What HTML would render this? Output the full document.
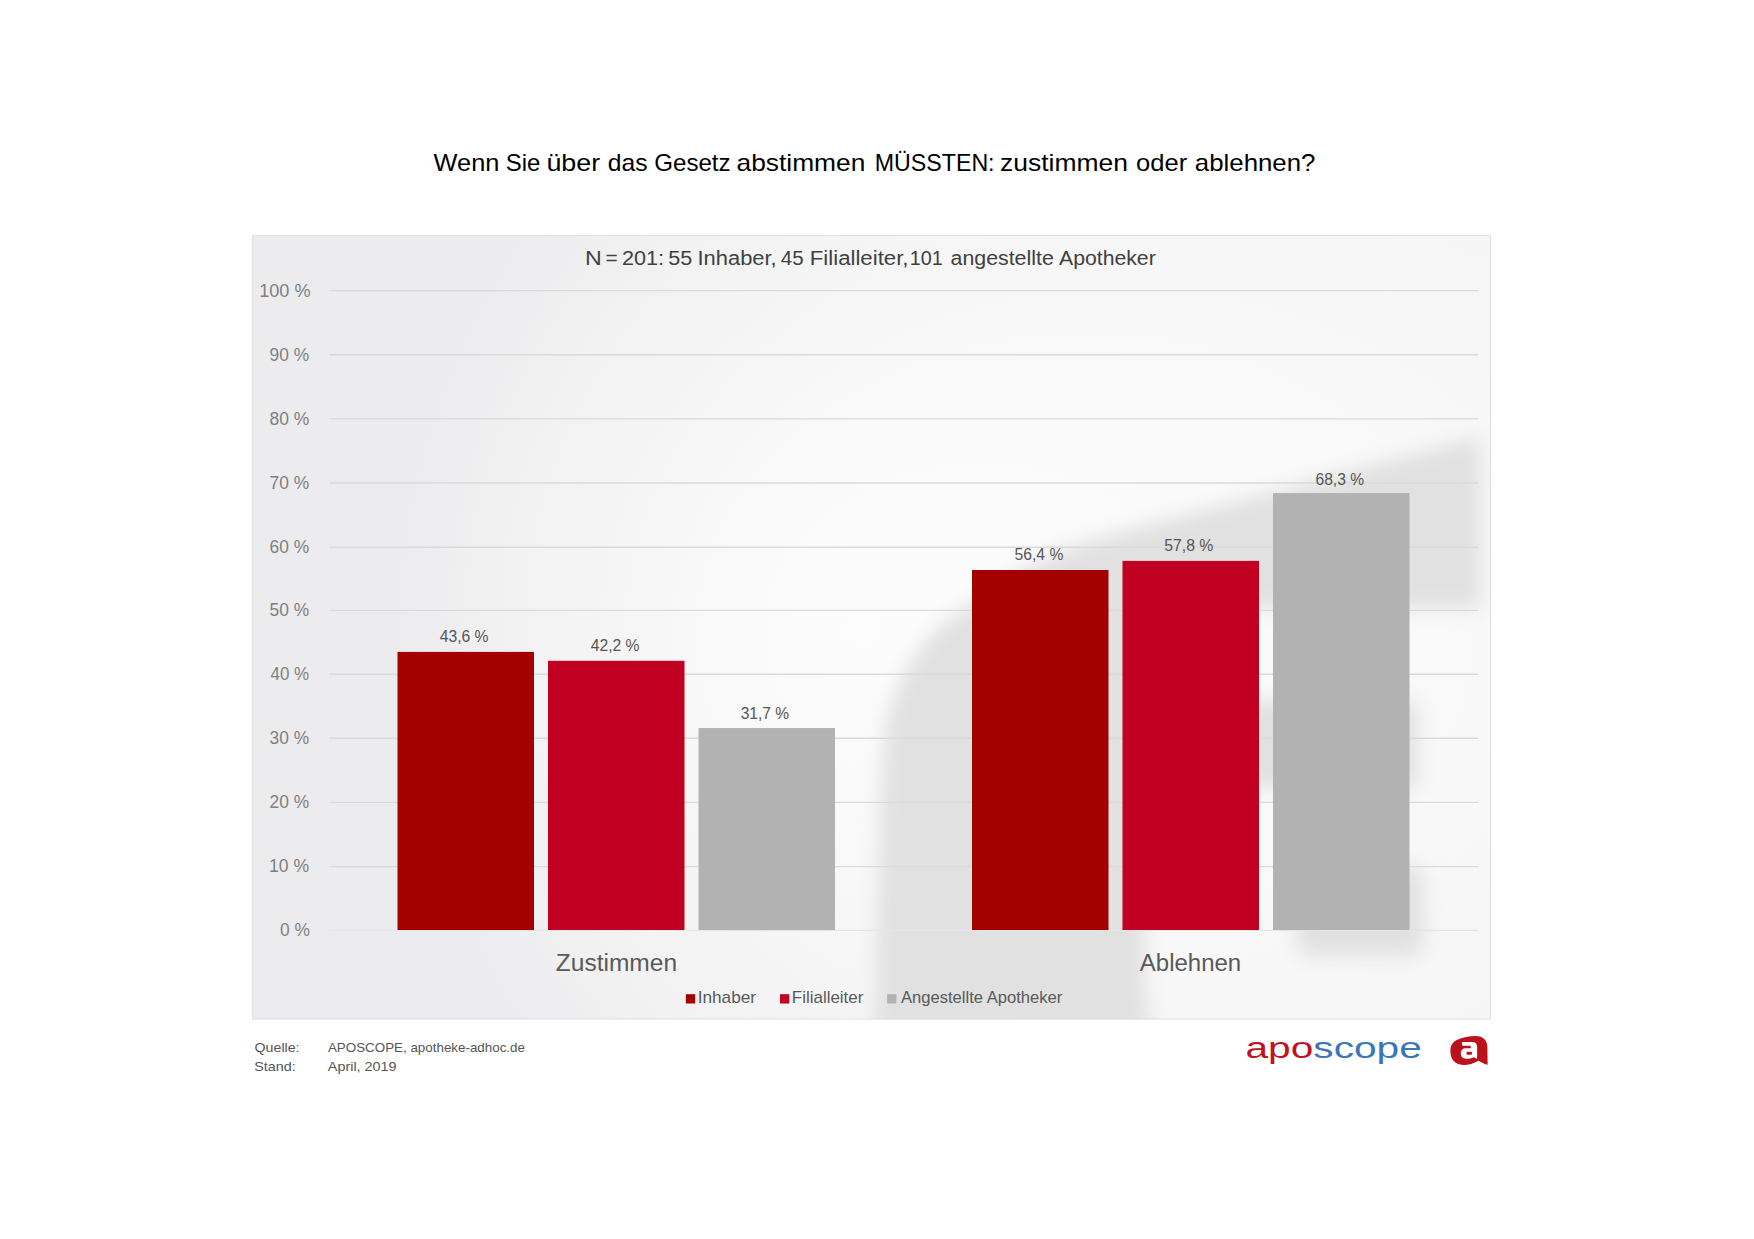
<!DOCTYPE html>
<html lang="de"><head><meta charset="utf-8"><title>Wenn Sie über das Gesetz abstimmen MÜSSTEN</title>
<style>html,body{margin:0;padding:0;background:#fff}body{width:1754px;height:1239px;overflow:hidden}svg{display:block}text{font-family:"Liberation Sans",sans-serif}</style>
</head><body>
<svg width="1754" height="1239" viewBox="0 0 1754 1239">
<defs>
<radialGradient id="bg" gradientUnits="userSpaceOnUse" cx="1540" cy="630" r="1140" fx="850" fy="630" gradientTransform="translate(0 630) scale(1 0.76) translate(0 -630)"><stop offset="0" stop-color="#fcfcfc"/><stop offset="0.3" stop-color="#f9f9f9"/><stop offset="0.6" stop-color="#f4f4f4"/><stop offset="0.8" stop-color="#f1f1f2"/><stop offset="1" stop-color="#ececee"/></radialGradient>
<filter id="blur" x="-10%" y="-10%" width="120%" height="120%"><feGaussianBlur stdDeviation="9.5"/></filter>
<clipPath id="cc"><rect x="252" y="235" width="1239" height="784.5"/></clipPath>
</defs>
<rect width="1754" height="1239" fill="#fff"/>
<rect x="252" y="235" width="1239" height="784.5" fill="url(#bg)"/>
<g clip-path="url(#cc)"><g filter="url(#blur)"><path d="M 868 1100 L 876 1000 L 878 860 L 882 770 L 886 722 L 895 692 L 906 669 L 922 646 L 940 627 L 972 603 L 1020 572 L 1063 550 L 1120 532 L 1181 516 L 1270 493 L 1380 463 L 1481 437 L 1481 608 L 1165 608 L 1170 700 L 1406 700 Q 1418 700 1418 712 L 1418 788 L 1240 788 C 1176 788 1145 820 1145 880 L 1145 980 C 1145 1040 1170 1080 1230 1100 Z M 1314 865 L 1406 865 Q 1424 865 1424 883 L 1424 938 Q 1424 956 1406 956 L 1314 956 Q 1296 956 1296 938 L 1296 883 Q 1296 865 1314 865 Z" fill="#e1e1e1"/></g></g>
<rect x="252.5" y="235.5" width="1238" height="783.5" fill="none" stroke="#dfdfea" stroke-width="1"/>
<line x1="329" x2="1478" y1="866.60" y2="866.60" stroke="#dadada" stroke-width="1.35"/>
<line x1="329" x2="1478" y1="802.30" y2="802.30" stroke="#dadada" stroke-width="1.35"/>
<line x1="329" x2="1478" y1="738.20" y2="738.20" stroke="#dadada" stroke-width="1.35"/>
<line x1="329" x2="1478" y1="674.20" y2="674.20" stroke="#dadada" stroke-width="1.35"/>
<line x1="329" x2="1478" y1="610.30" y2="610.30" stroke="#dadada" stroke-width="1.35"/>
<line x1="329" x2="1478" y1="547.20" y2="547.20" stroke="#dadada" stroke-width="1.35"/>
<line x1="329" x2="1478" y1="482.95" y2="482.95" stroke="#dadada" stroke-width="1.35"/>
<line x1="329" x2="1478" y1="418.85" y2="418.85" stroke="#dadada" stroke-width="1.35"/>
<line x1="329" x2="1478" y1="354.75" y2="354.75" stroke="#dadada" stroke-width="1.35"/>
<line x1="329" x2="1478" y1="290.65" y2="290.65" stroke="#dadada" stroke-width="1.35"/>
<line x1="329" x2="1478" y1="930.30" y2="930.30" stroke="#e2e4ee" stroke-width="1.2"/>
<rect x="397.50" y="651.90" width="136.5" height="278.10" fill="#a40000"/>
<rect x="548.00" y="660.80" width="136.5" height="269.20" fill="#c20021"/>
<rect x="698.50" y="728.05" width="136.5" height="201.95" fill="#b2b2b2"/>
<rect x="972.00" y="570.00" width="136.5" height="360.00" fill="#a40000"/>
<rect x="1122.50" y="560.90" width="136.5" height="369.10" fill="#c20021"/>
<rect x="1273.00" y="493.10" width="136.5" height="436.90" fill="#b2b2b2"/>
<rect x="685.9" y="994.2" width="9.3" height="9.3" fill="#a40000"/>
<rect x="780" y="994.2" width="9.3" height="9.3" fill="#c20021"/>
<rect x="887.1" y="994.2" width="9.3" height="9.3" fill="#b2b2b2"/>
<text y="170.6" font-size="23.2" fill="#000"><tspan x="433.61" textLength="65.80" lengthAdjust="spacingAndGlyphs">Wenn</tspan> <tspan x="505.80" textLength="34.64" lengthAdjust="spacingAndGlyphs">Sie</tspan> <tspan x="546.42" textLength="53.82" lengthAdjust="spacingAndGlyphs">über</tspan> <tspan x="607.88" textLength="39.80" lengthAdjust="spacingAndGlyphs">das</tspan> <tspan x="654.23" textLength="76.41" lengthAdjust="spacingAndGlyphs">Gesetz</tspan> <tspan x="736.54" textLength="128.83" lengthAdjust="spacingAndGlyphs">abstimmen</tspan> <tspan x="874.81" textLength="119.76" lengthAdjust="spacingAndGlyphs">MÜSSTEN:</tspan> <tspan x="1000.12" textLength="127.85" lengthAdjust="spacingAndGlyphs">zustimmen</tspan> <tspan x="1136.10" textLength="51.13" lengthAdjust="spacingAndGlyphs">oder</tspan> <tspan x="1194.82" textLength="120.65" lengthAdjust="spacingAndGlyphs">ablehnen?</tspan></text>
<text y="264.8" font-size="19.6" fill="#404040"><tspan x="585.04" textLength="16.75" lengthAdjust="spacingAndGlyphs">N</tspan> <tspan x="605.47" textLength="12.23" lengthAdjust="spacingAndGlyphs">=</tspan> <tspan x="621.93" textLength="42.15" lengthAdjust="spacingAndGlyphs">201:</tspan> <tspan x="668.32" textLength="24.02" lengthAdjust="spacingAndGlyphs">55</tspan> <tspan x="697.45" textLength="79.29" lengthAdjust="spacingAndGlyphs">Inhaber,</tspan> <tspan x="780.76" textLength="22.81" lengthAdjust="spacingAndGlyphs">45</tspan> <tspan x="809.78" textLength="98.75" lengthAdjust="spacingAndGlyphs">Filialleiter,</tspan> <tspan x="909.73" textLength="33.03" lengthAdjust="spacingAndGlyphs">101</tspan> <tspan x="950.53" textLength="103.26" lengthAdjust="spacingAndGlyphs">angestellte</tspan> <tspan x="1059.00" textLength="96.71" lengthAdjust="spacingAndGlyphs">Apotheker</tspan></text>
<text x="280.11" y="936.0" font-size="18.0" fill="#7f7f7f" textLength="29.90" lengthAdjust="spacingAndGlyphs">0 %</text>
<text x="269.00" y="872.0" font-size="18.0" fill="#7f7f7f" textLength="40.12" lengthAdjust="spacingAndGlyphs">10 %</text>
<text x="269.61" y="808.0" font-size="18.0" fill="#7f7f7f" textLength="39.57" lengthAdjust="spacingAndGlyphs">20 %</text>
<text x="269.61" y="744.0" font-size="18.0" fill="#7f7f7f" textLength="39.56" lengthAdjust="spacingAndGlyphs">30 %</text>
<text x="270.47" y="680.0" font-size="18.0" fill="#7f7f7f" textLength="38.62" lengthAdjust="spacingAndGlyphs">40 %</text>
<text x="269.61" y="616.0" font-size="18.0" fill="#7f7f7f" textLength="39.57" lengthAdjust="spacingAndGlyphs">50 %</text>
<text x="269.56" y="552.5" font-size="18.0" fill="#7f7f7f" textLength="39.59" lengthAdjust="spacingAndGlyphs">60 %</text>
<text x="269.59" y="488.5" font-size="18.0" fill="#7f7f7f" textLength="39.59" lengthAdjust="spacingAndGlyphs">70 %</text>
<text x="269.47" y="424.5" font-size="18.0" fill="#7f7f7f" textLength="39.83" lengthAdjust="spacingAndGlyphs">80 %</text>
<text x="269.60" y="361.0" font-size="18.0" fill="#7f7f7f" textLength="39.50" lengthAdjust="spacingAndGlyphs">90 %</text>
<text x="259.22" y="297.0" font-size="18.0" fill="#7f7f7f" textLength="51.23" lengthAdjust="spacingAndGlyphs">100 %</text>
<text x="439.74" y="642.0" font-size="16.0" fill="#555555" textLength="48.77" lengthAdjust="spacingAndGlyphs">43,6 %</text>
<text x="590.74" y="651.0" font-size="16.0" fill="#555555" textLength="48.77" lengthAdjust="spacingAndGlyphs">42,2 %</text>
<text x="740.70" y="718.8" font-size="16.0" fill="#555555" textLength="48.34" lengthAdjust="spacingAndGlyphs">31,7 %</text>
<text x="1014.55" y="559.9" font-size="16.0" fill="#555555" textLength="48.84" lengthAdjust="spacingAndGlyphs">56,4 %</text>
<text x="1164.31" y="550.9" font-size="16.0" fill="#555555" textLength="49.06" lengthAdjust="spacingAndGlyphs">57,8 %</text>
<text x="1315.46" y="484.8" font-size="16.0" fill="#555555" textLength="48.56" lengthAdjust="spacingAndGlyphs">68,3 %</text>
<text x="555.89" y="971.2" font-size="23.5" fill="#595959" textLength="121.16" lengthAdjust="spacingAndGlyphs">Zustimmen</text>
<text x="1139.87" y="970.8" font-size="23.5" fill="#595959" textLength="101.33" lengthAdjust="spacingAndGlyphs">Ablehnen</text>
<text x="697.66" y="1003.2" font-size="15.7" fill="#595959" textLength="58.38" lengthAdjust="spacingAndGlyphs">Inhaber</text>
<text x="791.84" y="1003.2" font-size="15.7" fill="#595959" textLength="71.56" lengthAdjust="spacingAndGlyphs">Filialleiter</text>
<text x="900.92" y="1003.2" font-size="15.7" fill="#595959" textLength="161.47" lengthAdjust="spacingAndGlyphs">Angestellte Apotheker</text>
<text x="254.57" y="1051.9" font-size="13.1" fill="#555" textLength="44.97" lengthAdjust="spacingAndGlyphs">Quelle:</text>
<text x="327.93" y="1051.9" font-size="13.1" fill="#555" textLength="197.03" lengthAdjust="spacingAndGlyphs">APOSCOPE, apotheke-adhoc.de</text>
<text x="254.25" y="1070.7" font-size="13.1" fill="#555" textLength="41.45" lengthAdjust="spacingAndGlyphs">Stand:</text>
<text x="327.89" y="1070.7" font-size="13.1" fill="#555" textLength="68.65" lengthAdjust="spacingAndGlyphs">April, 2019</text>
<text x="1245.4" y="1058.1" font-size="29.7" textLength="176.5" lengthAdjust="spacingAndGlyphs"><tspan fill="#c1121f">apo</tspan><tspan fill="#3b76b8">scope</tspan></text>
<g transform="translate(1440 1028) scale(0.03713)"><path d="M 280 620 C 280 480 330 390 450 325 C 600 250 800 215 950 215 C 1130 215 1260 300 1275 480 L 1283 990 C 1200 975 1100 915 1040 880 C 900 960 750 1000 620 995 C 400 985 280 850 280 620 Z" fill="#bb111a"/><path d="M 590 380 L 870 380 C 960 380 1000 420 1000 510 L 1000 830 L 905 790 C 850 820 780 830 700 830 C 610 830 560 780 560 690 C 560 600 610 545 700 545 L 830 545 L 830 500 C 830 485 825 480 810 480 L 600 480 Z M 735 640 L 840 640 Q 860 640 860 660 L 860 700 Q 860 720 840 720 L 735 720 Q 715 720 715 700 L 715 660 Q 715 640 735 640 Z" fill="#fff" fill-rule="evenodd"/></g>
</svg></body></html>
